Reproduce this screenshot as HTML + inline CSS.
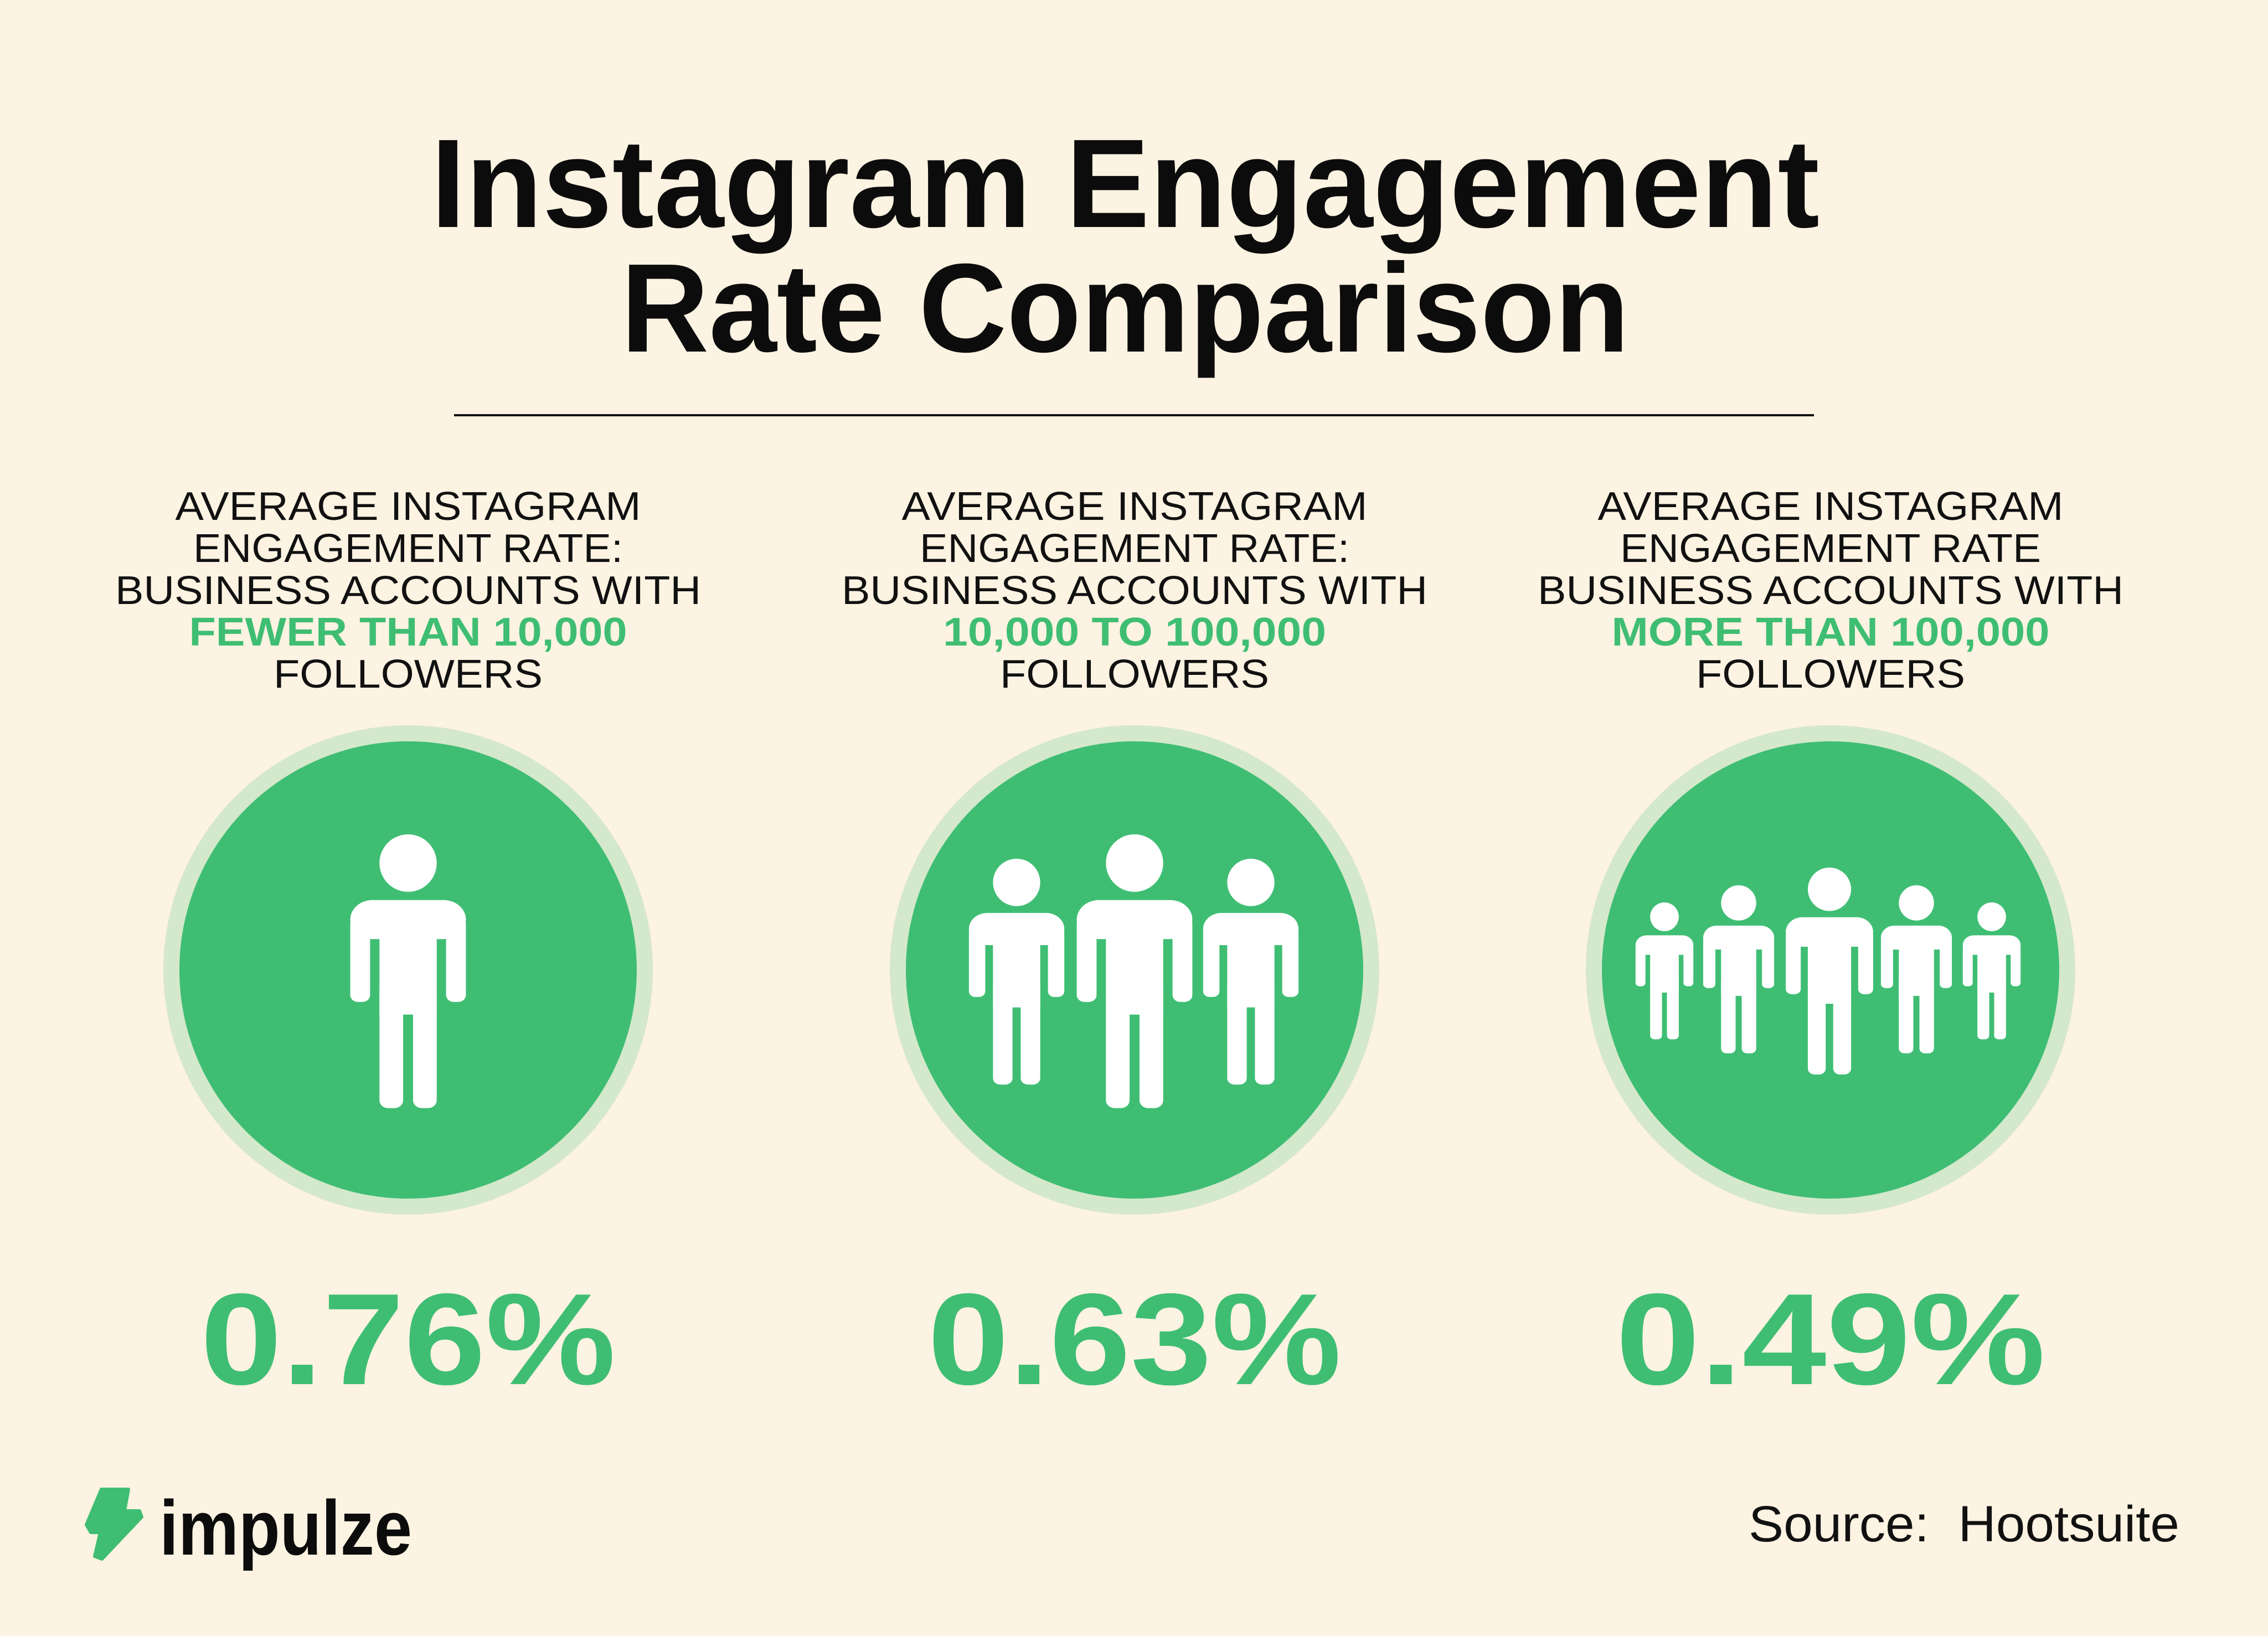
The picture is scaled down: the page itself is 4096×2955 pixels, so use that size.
<!DOCTYPE html>
<html><head><meta charset="utf-8"><style>
html,body{margin:0;padding:0;background:#fdf3e2;}
svg{display:block;}
text{font-family:"Liberation Sans",sans-serif;}
</style></head><body>
<svg id="root" width="4096" height="2955" viewBox="0 0 4096 2955" xmlns="http://www.w3.org/2000/svg">
<rect width="4096" height="2955" fill="#fdf3e2"/>
<g>
<text x="2032" y="410" text-anchor="middle" font-size="228" font-weight="bold" fill="#0c0c0c" textLength="2508" lengthAdjust="spacingAndGlyphs">Instagram Engagement</text>
<text x="2032" y="635" text-anchor="middle" font-size="228" font-weight="bold" fill="#0c0c0c" textLength="1821" lengthAdjust="spacingAndGlyphs">Rate Comparison</text>
</g>
<line x1="820" y1="750" x2="3276" y2="750" stroke="#111" stroke-width="4"/>
<g id="cols"></g>
<g>
<polygon points="183,2690 232,2690 225,2729 252,2729 256,2740 184,2816 171,2811 181,2768 164,2768 156,2754" fill="#3fbe73" stroke="#3fbe73" stroke-width="6" stroke-linejoin="round"/>
<text x="288" y="2808" font-size="140" font-weight="bold" fill="#0c0c0c" textLength="456" lengthAdjust="spacingAndGlyphs">impulze</text>
</g>
<text x="3936" y="2784" text-anchor="end" font-size="92" fill="#111" textLength="778" lengthAdjust="spacingAndGlyphs" xml:space="preserve">Source:  Hootsuite</text>
</svg>
<script>
const values = [0.76, 0.63, 0.49];
const labelLine4 = ["FEWER THAN 10,000", "10,000 TO 100,000", "MORE THAN 100,000"];
const labelLine2 = ["ENGAGEMENT RATE:", "ENGAGEMENT RATE:", "ENGAGEMENT RATE"];
const NS = "http://www.w3.org/2000/svg";
const G = "#3fbe73";
const cols = document.getElementById('cols');
const centers = [737, 2049, 3306];
const lw4 = [791, 692, 791];
const lw2 = [776, 776, 760];
const pctW = [750, 747, 776];
const figs = [
 [[737,1507,0.88]],
 [[1836,1551,0.726],[2259,1551,0.726],[2049,1507,0.88]],
 [[3006,1630,0.44],[3597,1630,0.44],[3140,1599,0.54],[3461,1599,0.54],[3304,1567,0.665]]
];
function mk(tag, attrs, parent){const e=document.createElementNS(NS,tag);for(const k in attrs)e.setAttribute(k,attrs[k]);parent.appendChild(e);return e;}
function person(parent,cx,top,s){
 const g=mk('g',{transform:`translate(${cx},${top}) scale(${s*1.13},${s})`,fill:'#fff'},parent);
 
 
 mk('ellipse',{cx:0,cy:59,rx:52,ry:59},g);
 mk('rect',{x:-105,y:135,width:210,height:80,rx:40},g);
 mk('rect',{x:-105,y:170,width:36,height:174,rx:14},g);
 mk('rect',{x:69,y:170,width:36,height:174,rx:14},g);
 mk('rect',{x:-52,y:170,width:104,height:200},g);
 mk('rect',{x:-52,y:300,width:43,height:262,rx:16},g);
 mk('rect',{x:9,y:300,width:43,height:262,rx:16},g);
}
values.forEach((v,i)=>{
 const cx=centers[i];
 const g=mk('g',{},cols);
 
 
 const lines=[["AVERAGE INSTAGRAM",841,'#111'],[labelLine2[i],lw2[i],'#111'],["BUSINESS ACCOUNTS WITH",1058,'#111'],[labelLine4[i],lw4[i],G],["FOLLOWERS",486,'#111']];
 const ys=[939,1015,1091,1166,1242];
 lines.forEach((l,j)=>{
  const t=mk('text',{x:cx,y:ys[j],'text-anchor':'middle','font-size':72,fill:l[2],'font-weight':j==3?'bold':'normal',textLength:l[1],lengthAdjust:'spacingAndGlyphs'},g);
  t.textContent=l[0];
  
  
 });
 const cy=1752;
 const ring=mk('circle',{cx:cx,cy:cy,r:442,fill:'#d4e8cc'},g);
 
 
 const c=mk('circle',{cx:cx,cy:cy,r:413,fill:G},g);
 
 
 figs[i].forEach(f=>person(g,f[0],f[1],f[2]));
 const p=mk('text',{x:cx,y:2500,'text-anchor':'middle','font-size':235,'font-weight':'bold',fill:G,textLength:pctW[i],lengthAdjust:'spacingAndGlyphs'},g);
 p.textContent=v.toFixed(2)+'%';
 
 
});
</script>
</body></html>
